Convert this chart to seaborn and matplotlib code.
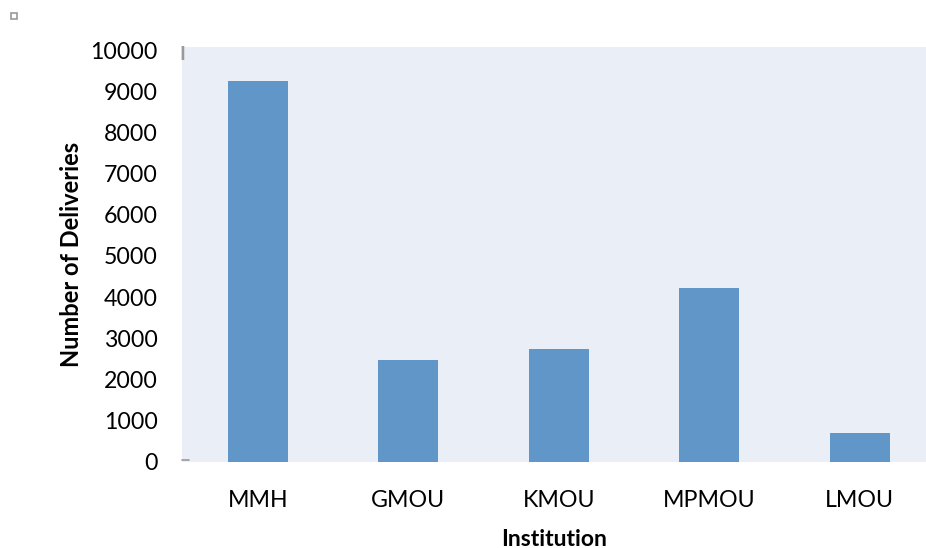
import matplotlib
matplotlib.use("Agg")
import matplotlib.pyplot as plt
import seaborn as sns
import pandas as pd

# --- DATA ---
institutions = ["MMH", "GMOU", "KMOU", "MPMOU", "LMOU"]
deliveries = [9250, 2480, 2740, 4220, 700]
y_ticks = list(range(0, 10001, 1000))

df = pd.DataFrame({"Institution": institutions, "Deliveries": deliveries})

sns.set_theme(style="white")
plt.rcParams["font.family"] = ["Lato", "DejaVu Sans"]

fig = plt.figure(figsize=(9.26, 5.48), dpi=100)
ax = fig.add_axes([0.1965, 0.157, 0.8035, 0.757])
ax.set_facecolor("#eaeef7")

sns.barplot(data=df, x="Institution", y="Deliveries", color="#6096c8",
            saturation=1, width=0.4, linewidth=0, ax=ax)

ax.set_xlim(-0.505, 4.44)
ax.set_ylim(0, 10070)
ax.set_yticks(y_ticks)
ax.tick_params(axis="both", length=0, labelsize=16.7, colors="black")
ax.tick_params(axis="y", pad=17.5)
ax.tick_params(axis="x", pad=20.5)
for s in ax.spines.values():
    s.set_visible(False)

ax.set_xlabel("Institution", fontsize=16.5, fontweight="bold", labelpad=12.5,
              color="black")
ax.set_ylabel("Number of Deliveries", fontsize=17, fontweight="bold", labelpad=5.5,
              color="black")

# little gray marks from the original export
fig.patches.append(plt.Rectangle((11 / 926, 1 - 19 / 548), 6 / 926, 6 / 548,
                                 transform=fig.transFigure, fill=False,
                                 edgecolor="#999999", linewidth=1.2))
fig.text(182 / 926, 1 - 54 / 548, "I", fontsize=14, color="#999999",
         fontweight="bold", ha="center", va="center")
fig.lines.append(plt.Line2D([182 / 926, 189 / 926], [1 - 460 / 548, 1 - 460 / 548],
                            transform=fig.transFigure, color="#999999", linewidth=1.2))

fig.savefig("out.png", dpi=100)
